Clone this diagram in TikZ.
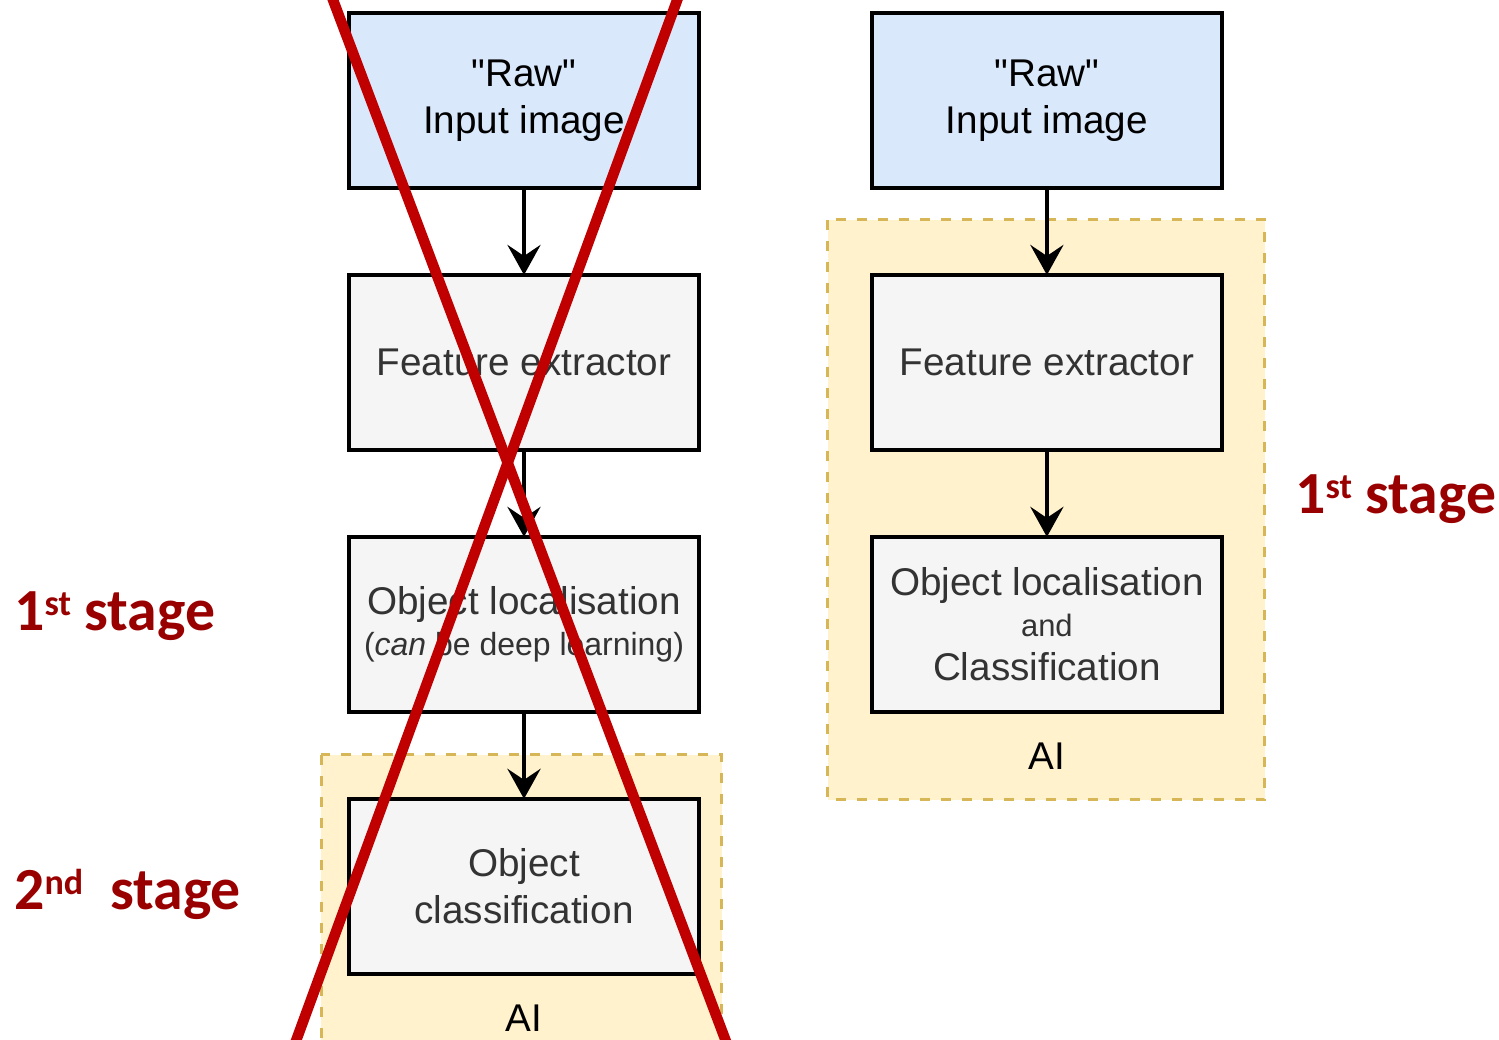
\documentclass[tikz,border=0pt]{standalone}
\usepackage{fontspec}
\setmainfont{Liberation Sans}
\newfontfamily\stagefont{Carlito}
\usetikzlibrary{arrows.meta,positioning,backgrounds}

\definecolor{rawblue}{HTML}{DAE8FC}
\definecolor{boxgray}{HTML}{F5F5F5}
\definecolor{aifill}{HTML}{FFF2CC}
\definecolor{aiedge}{HTML}{D6B656}
\definecolor{boxtext}{HTML}{333333}
\definecolor{crossred}{HTML}{C00000}
\definecolor{stagered}{HTML}{990000}

\newcommand{\sups}[1]{\raisebox{8.2pt}{\fontsize{20.5}{20.5}\selectfont #1}}

\begin{document}
\begin{tikzpicture}[%
>={Stealth[length=0.6cm,width=0.66cm,inset=0.22cm]},
x=0.02cm, y=-0.02cm,
node distance=5.24cm,
on grid,
stepbox/.style={draw, line width=2pt, outer sep=0pt, minimum width=7cm,
  minimum height=3.5cm, fill=boxgray, text=boxtext, align=center,
  font=\fontsize{22}{26.6}\selectfont},
rawbox/.style={stepbox, fill=rawblue, text=black},
ailabel/.style={font=\fontsize{22}{26.6}\selectfont},
airegion/.style={fill=aifill, draw=aiedge, line width=1.7pt,
  dash pattern=on 0.2cm off 0.22cm},
flow/.style={->, line width=2.6pt},
stagetxt/.style={font=\stagefont\bfseries\fontsize{34}{34}\selectfont,
  text=stagered, anchor=base west, inner sep=0pt}
]
\useasboundingbox (0,0) rectangle (1499,1039);

% old pipeline (left)
\node[rawbox] (rawL) at (524,100.5) {\textquotedbl Raw\textquotedbl\\Input image};
\node[stepbox] (featL) [below=of rawL] {Feature extractor};
\node[stepbox] (locL) [below=of featL] {Object localisation\\[-3.7pt]{\fontsize{18.2}{22}\selectfont(\textit{can} be deep learning)}};
\node[stepbox] (clsL) [below=of locL] {Object\\classification};
\node[ailabel] (aiL) at ([yshift=-0.88cm]clsL.south) {AI};

% new pipeline (right)
\node[rawbox] (rawR) [right=10.46cm of rawL] {\textquotedbl Raw\textquotedbl\\Input image};
\node[stepbox] (featR) [below=of rawR] {Feature extractor};
\node[stepbox] (locR) [below=of featR] {Object localisation\\[-3.4pt]{\fontsize{17.6}{20}\selectfont and}\\[-1.4pt]Classification};
\node[ailabel] (aiR) at ([yshift=-0.88cm]locR.south) {AI};

\begin{scope}[on background layer]
\clip (0,0) rectangle (1499,1039);
\draw[airegion] ([xshift=-0.56cm,yshift=0.88cm]clsL.north west) rectangle ([xshift=0.46cm,yshift=-1.76cm]clsL.south east);
\draw[airegion] ([xshift=-0.88cm,yshift=1.1cm]featR.north west) rectangle ([xshift=0.86cm,yshift=-1.76cm]locR.south east);
\end{scope}

\path[flow] (rawL) edge (featL)
            (featL) edge (locL)
            (locL) edge (clsL);
\path[flow] (rawR) edge (featR)
            (featR) edge (locR);

% stage labels
\node[stagetxt] (stage1L) at (14,630) {1\sups{st} stage};
\node[stagetxt] (stage2L) at (14,909) {2\sups{nd}\ \ stage};
\node[stagetxt] (stage1R) at (1295,513) {1\sups{st} stage};

% crossed out
\begin{scope}
\clip (0,0) rectangle (1499,1039);
\draw[crossred, line width=6pt] (325.5,-20) -- (733,1060);
\draw[crossred, line width=6pt] (684.5,-20) -- (289,1060);
\end{scope}
\end{tikzpicture}
\end{document}
